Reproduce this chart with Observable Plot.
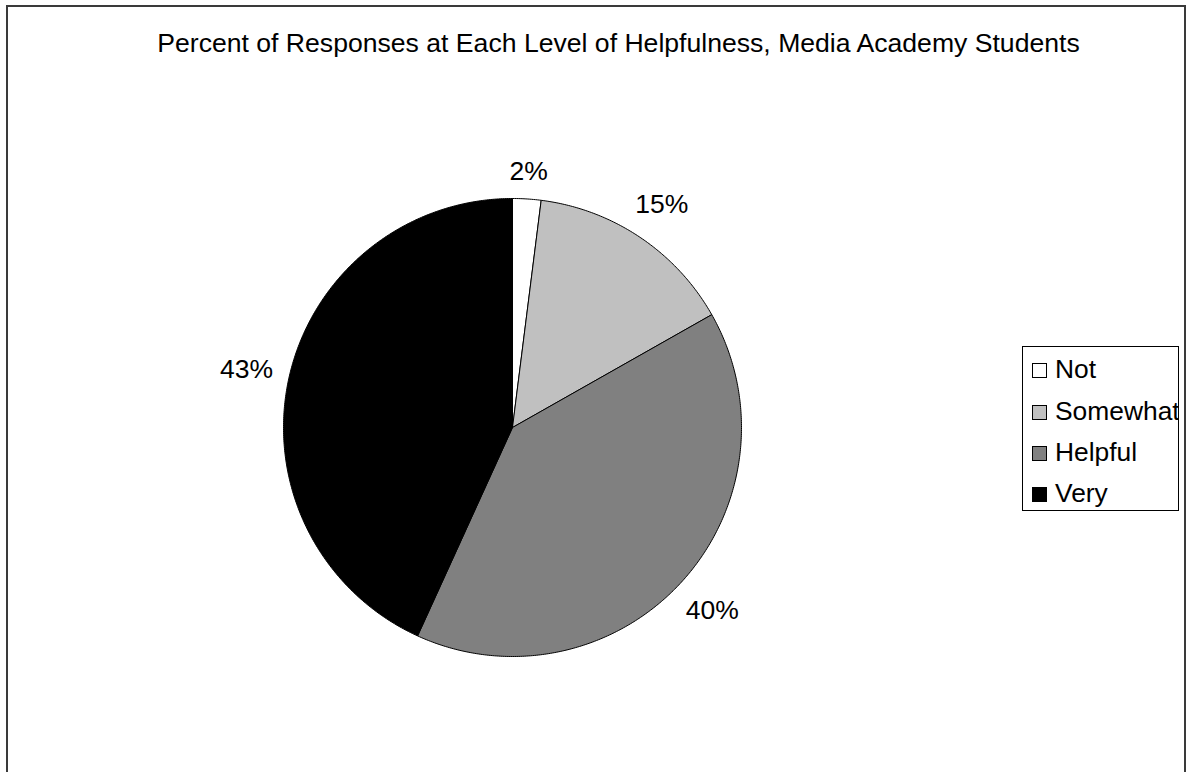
<!DOCTYPE html>
<html>
<head>
<meta charset="utf-8">
<script src="https://cdn.jsdelivr.net/npm/d3@7"></script>
<script src="https://cdn.jsdelivr.net/npm/@observablehq/plot@0.6"></script>
<style>
  html, body { margin: 0; padding: 0; background: #fff; }
  body { font-family: "Liberation Sans", Arial, sans-serif; }
  #wrap { position: relative; width: 1187px; height: 772px; overflow: hidden; background: #fff; }
  #frame { position: absolute; left: 6px; top: 5px; width: 1176px; height: 820px; border: 2px solid #3a3a3a; }
  #title { position: absolute; left: 0; width: 1237px; top: 30px; text-align: center; font-size: 26.6px; line-height: 26px; color: #000; white-space: nowrap; }
  #chart { position: absolute; left: 0; top: 0; }
  #legend { position: absolute; left: 1022px; top: 346px; width: 155px; height: 163px; border: 1px solid #000; overflow: hidden; background: #fff; }
  .item { position: absolute; left: 9px; height: 30px; font-size: 26.4px; line-height: 30px; white-space: nowrap; }
  .sw { display: inline-block; width: 13px; height: 13px; border: 1px solid #000; margin-right: 8px; vertical-align: 0px; }
</style>
</head>
<body>
<div id="wrap">
  <div id="frame"></div>
  <div id="chart"></div>
  <div id="title"></div>
  <div id="legend"></div>
</div>
<script>
const categories = ["Not", "Somewhat", "Helpful", "Very"];
const values = [2.0, 14.8, 40.0, 43.2];
const labels = ["2%", "15%", "40%", "43%"];
const colors = ["#ffffff", "#c0c0c0", "#808080", "#000000"];
const title = "Percent of Responses at Each Level of Helpfulness, Media Academy Students";

const W = 1187, H = 772;
const cx = 512, cy = 427, R = 229;

// Build slice polygons from the values (angles clockwise from 12 o'clock)
const pie = d3.pie().sort(null).value(d => d)(values);
const pts = [];
pie.forEach((p, i) => {
  const a0 = p.startAngle, a1 = p.endAngle;
  const n = Math.max(2, Math.ceil((a1 - a0) / (Math.PI / 360)));
  pts.push({name: categories[i], x: 0, y: 0});
  for (let k = 0; k <= n; k++) {
    const a = a0 + (a1 - a0) * k / n;
    pts.push({name: categories[i], x: Math.sin(a), y: Math.cos(a)});
  }
  pts.push({name: categories[i], x: 0, y: 0});
});

// Label positions just outside the pie
const fs = 26.5;
const lab = pie.map((p, i) => {
  const a = (p.startAngle + p.endAngle) / 2;
  const w = labels[i].length === 2 ? 1.445 * fs : 2.0 * fs;
  const off = 15 + Math.abs(Math.sin(a)) * w / 2 + Math.abs(Math.cos(a)) * 11;
  const r = 1 + off / R;
  return {x: r * Math.sin(a), y: r * Math.cos(a), text: labels[i]};
});

const plot = Plot.plot({
  width: W,
  height: H,
  marginLeft: cx - R,
  marginRight: W - (cx + R),
  marginTop: cy - R,
  marginBottom: H - (cy + R),
  x: {domain: [-1, 1], axis: null},
  y: {domain: [-1, 1], axis: null},
  color: {domain: categories, range: colors},
  style: {background: "transparent", fontFamily: "'Liberation Sans', Arial, sans-serif"},
  marks: [
    Plot.line(pts, {x: "x", y: "y", z: "name", fill: "name", stroke: "#000", strokeWidth: 1, curve: "linear", strokeLinejoin: "miter"}),
    Plot.text(lab, {x: "x", y: "y", text: "text", fontSize: fs, fill: "#000"})
  ]
});
document.getElementById("chart").appendChild(plot);

document.getElementById("title").textContent = title;

const legend = document.getElementById("legend");
const rowCenters = [22, 64, 105, 146];
categories.forEach((c, i) => {
  const div = document.createElement("div");
  div.className = "item";
  div.style.top = (rowCenters[i] - 15) + "px";
  const sw = document.createElement("span");
  sw.className = "sw";
  sw.style.background = colors[i];
  div.appendChild(sw);
  div.appendChild(document.createTextNode(c));
  legend.appendChild(div);
});
</script>
</body>
</html>
